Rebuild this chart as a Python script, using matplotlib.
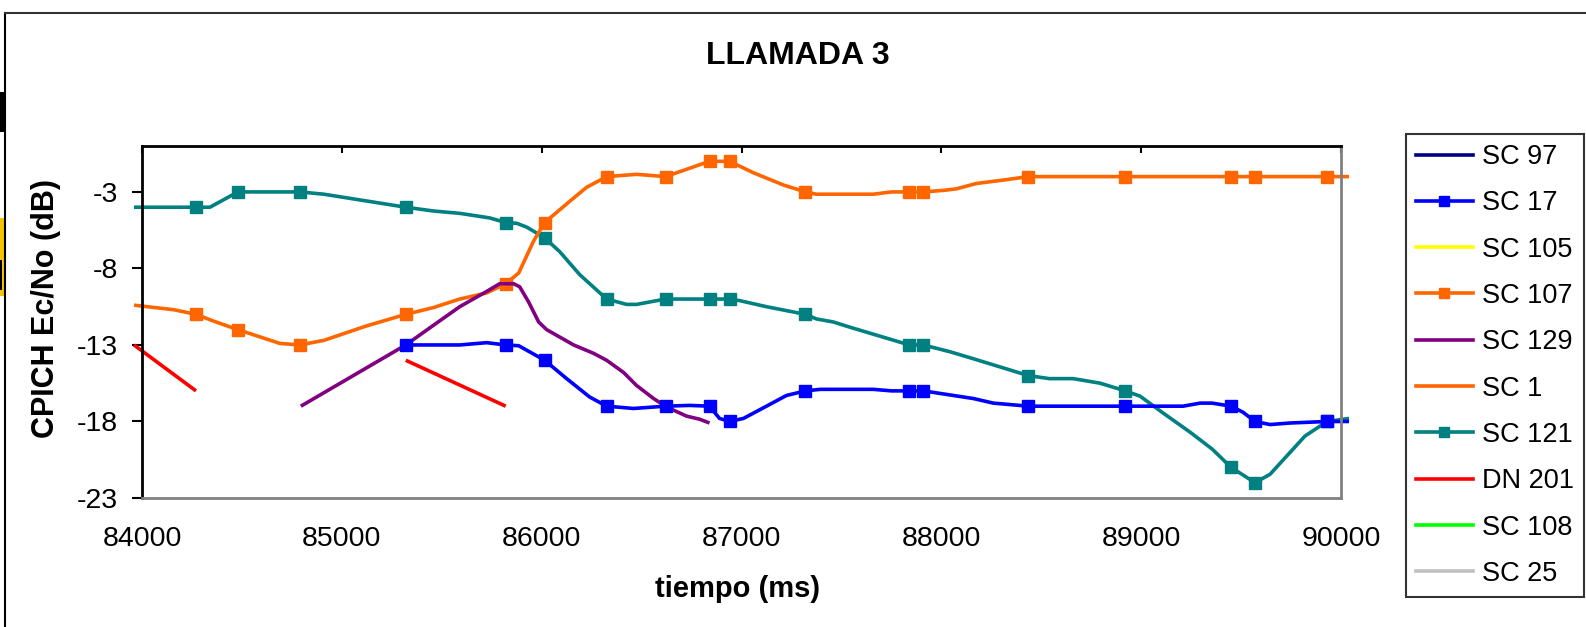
import numpy as np
import matplotlib
matplotlib.use("Agg")
import matplotlib.pyplot as plt
from matplotlib.lines import Line2D
from matplotlib.patches import Rectangle

plt.rcParams['font.family'] = ['Liberation Sans', 'DejaVu Sans']

# series labels and colours, in legend order
names = ['SC 97', 'SC 17', 'SC 105', 'SC 107', 'SC 129', 'SC 1', 'SC 121', 'DN 201', 'SC 108', 'SC 25']
colors = ['#000080', '#0000FF', '#FFFF00', '#FF6600', '#800080', '#FF6600', '#008080', '#FF0000', '#00FF00', '#C0C0C0']

# times (ms) where a measurement marker is drawn
mark_t = [84270, 84480, 84790, 85320, 85820, 86015, 86325, 86620, 86840, 86940,
          87320, 87840, 87910, 88435, 88920, 89450, 89570, 89930]

# SC 121
t_121 = [83960, 84270, 84340, 84480, 84790, 84910, 85320, 85460, 85590, 85740, 85820, 85875,
         85925, 86015, 86090, 86190, 86325, 86425, 86475, 86620, 86840, 86940, 86990, 87125,
         87320, 87375, 87460, 87545, 87840, 87910, 88045, 88160, 88260, 88435, 88540, 88660,
         88795, 88920, 88995, 89110, 89245, 89355, 89450, 89570, 89645, 89820, 89930, 90040]
v_121 = [-4, -4, -4, -3, -3, -3.15, -4, -4.25, -4.4, -4.7, -5, -5.05,
         -5.3, -6, -6.9, -8.4, -10, -10.35, -10.35, -10, -10, -10, -10.1, -10.5,
         -11, -11.3, -11.5, -11.85, -13, -13, -13.45, -13.9, -14.3, -15, -15.2, -15.2,
         -15.5, -16, -16.35, -17.45, -18.7, -19.8, -21, -22, -21.45, -18.95, -18, -17.8]

# SC 107
t_107 = [83960, 84160, 84270, 84360, 84480, 84690, 84790, 84910, 85125, 85320, 85460, 85590,
         85725, 85820, 85885, 85960, 86015, 86160, 86225, 86325, 86475, 86620, 86840, 86940,
         87060, 87210, 87320, 87375, 87545, 87660, 87750, 87840, 87910, 88010, 88075, 88175,
         88325, 88435, 88920, 89450, 89570, 89930, 90040]
v_107 = [-10.4, -10.7, -11, -11.45, -12, -12.9, -13, -12.7, -11.75, -11, -10.55, -10,
         -9.6, -9, -8.3, -6.2, -5, -3.4, -2.7, -2, -1.85, -2, -1, -1,
         -1.75, -2.55, -3, -3.15, -3.15, -3.15, -3, -3, -3, -2.9, -2.8, -2.45,
         -2.2, -2, -2, -2, -2, -2, -2]

# SC 17
t_17 = [85320, 85590, 85725, 85820, 85885, 86015, 86125, 86240, 86325, 86460, 86620, 86740,
        86840, 86890, 86940, 87010, 87125, 87225, 87320, 87395, 87545, 87660, 87750, 87840,
        87910, 88010, 88160, 88260, 88435, 88920, 89210, 89295, 89355, 89450, 89510, 89570,
        89645, 89745, 89930, 90040]
v_17 = [-13, -13, -12.85, -13, -13.05, -14, -15.2, -16.4, -17, -17.15, -17, -16.95,
        -17, -17.8, -18, -17.8, -17, -16.3, -16, -15.9, -15.9, -15.9, -16, -16,
        -16, -16.2, -16.5, -16.8, -17, -17, -17, -16.8, -16.8, -17, -17.4, -18,
        -18.2, -18.1, -18, -18]

# SC 129
t_129 = [84795, 85320, 85460, 85590, 85725, 85790, 85860, 85890, 85935, 85985, 86025,
         86160, 86260, 86325, 86410, 86475, 86560, 86625, 86725, 86790, 86840]
v_129 = [-17, -13, -11.7, -10.5, -9.5, -9, -9, -9.2, -10.2, -11.5, -12,
         -13, -13.55, -14, -14.8, -15.65, -16.5, -17.05, -17.65, -17.85, -18.1]

# DN 201 (two separate stretches)
t_201 = [83960, 84270, np.nan, 85320, 85820]
v_201 = [-13, -16, np.nan, -14, -17]

xticks = [84000, 85000, 86000, 87000, 88000, 89000, 90000]
yticks = [-23, -18, -13, -8, -3]

W, H = 1586, 627
fig = plt.figure(figsize=(W / 100, H / 100), dpi=100)
ax = fig.add_axes([142 / W, (H - 498) / H, 1199 / W, 352 / H])


def marks(t):
    return [i for i, x in enumerate(t) if x in mark_t]


lw = 2.6
ms = 8
line_kw = dict(lw=lw, clip_on=False, solid_joinstyle='round', solid_capstyle='butt')
ax.plot(t_121, v_121, color=colors[6], marker='s', ms=ms, markevery=marks(t_121), **line_kw)
ax.plot(t_107, v_107, color=colors[3], marker='s', ms=ms, markevery=marks(t_107), **line_kw)
ax.plot(t_129, v_129, color=colors[4], **line_kw)
ax.plot(t_17, v_17, color=colors[1], marker='s', ms=ms, markevery=marks(t_17), **line_kw)
ax.plot(t_201, v_201, color=colors[7], **line_kw)

leg_handles = []
for n, c in zip(names, colors):
    if n in ('SC 17', 'SC 107', 'SC 121'):
        leg_handles.append(Line2D([], [], color=c, lw=lw, marker='s', ms=6.5))
    else:
        leg_handles.append(Line2D([], [], color=c, lw=lw))

ax.set_xlim(84000, 90000)
ax.set_ylim(-23, 0)
ax.set_xticks(xticks)
ax.set_yticks(yticks)
ax.set_xticklabels([str(x) for x in xticks])
ax.set_yticklabels([str(y) for y in yticks])
ax.tick_params(axis='x', top=True, bottom=False, labelbottom=True, direction='in',
               length=5, width=1.5, pad=20, labelsize=20.5)
ax.tick_params(axis='y', left=True, right=False, direction='out', length=7.2, width=1.5,
               pad=10, labelsize=20.5)
for s in ('top', 'left'):
    ax.spines[s].set_color('black')
    ax.spines[s].set_linewidth(2)
for s in ('bottom', 'right'):
    ax.spines[s].set_color('#808080')
    ax.spines[s].set_linewidth(2)

fig.text(798 / W, 1 - 56 / H, 'LLAMADA 3', ha='center', va='center', fontsize=23, fontweight='bold')
fig.text(46 / W, 1 - 308 / H, 'CPICH Ec/No (dB)', ha='center', va='center', rotation=90,
         fontsize=22, fontweight='bold')
fig.text(738 / W, 1 - 589 / H, 'tiempo (ms)', ha='center', va='center', fontsize=21, fontweight='bold')

leg = fig.legend(leg_handles, names, loc='upper left', bbox_to_anchor=(1406 / W, 1 - 134 / H),
                 borderaxespad=0, fontsize=19.5, frameon=True, fancybox=False, numpoints=1,
                 handlelength=2.1, handletextpad=0.33, labelspacing=0.75, borderpad=0.37)
leg.get_frame().set_edgecolor('black')
leg.get_frame().set_linewidth(1.5)

# outer chart frame and the bits of neighbouring objects at the left edge
fig.add_artist(Line2D([5 / W, 5 / W], [0, 1 - 13 / H], color='black', lw=1.5))
fig.add_artist(Line2D([5 / W, 1], [1 - 13 / H, 1 - 13 / H], color='#333333', lw=1.5))
fig.add_artist(Rectangle((0, 1 - 132 / H), 5 / W, 40 / H, color='black', lw=0))
fig.add_artist(Rectangle((0, 1 - 296 / H), 4 / W, 78 / H, color='#F5C400', lw=0))
fig.add_artist(Rectangle((0, 1 - 290 / H), 2 / W, 30 / H, color='black', lw=0))

fig.savefig('out.png', dpi=100)
